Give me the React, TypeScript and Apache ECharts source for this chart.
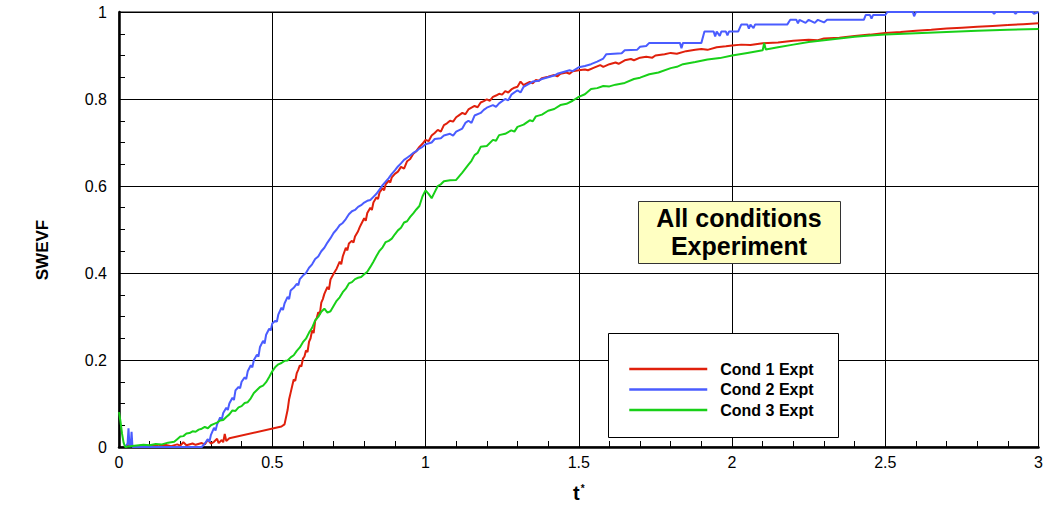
import React, { useEffect, useRef } from "react";
import * as echarts from "echarts";

// Swept-volume fraction vs. dimensionless time, three experimental conditions
const xTicks = [0, 0.5, 1, 1.5, 2, 2.5, 3];
const yTicks = [0, 0.2, 0.4, 0.6, 0.8, 1];

const seriesNames = ["Cond 1 Expt", "Cond 2 Expt", "Cond 3 Expt"];
const seriesColors = ["#e0200c", "#4a5cff", "#18d018"];

const cond1: [number, number][] = [
  [0.02, 0.0], [0.03, 0.004], [0.05, 0.001], [0.07, 0.003], [0.09, 0.0], [0.11, 0.004], [0.13, 0.002],
  [0.15, 0.005], [0.17, 0.002], [0.19, 0.006], [0.2, 0.003], [0.21, 0.011], [0.22, 0.004], [0.24, 0.008],
  [0.25, 0.005], [0.27, 0.009], [0.28, 0.006], [0.29, 0.017], [0.3, 0.008], [0.31, 0.012], [0.32, 0.019],
  [0.325, 0.009], [0.335, 0.016], [0.34, 0.011], [0.345, 0.03], [0.35, 0.014], [0.36, 0.02],
  [0.53, 0.047], [0.54, 0.052], [0.55, 0.085], [0.555, 0.11], [0.56, 0.125], [0.565, 0.14], [0.57, 0.155],
  [0.575, 0.152], [0.58, 0.17], [0.585, 0.178], [0.59, 0.188], [0.595, 0.185], [0.6, 0.203], [0.605, 0.208],
  [0.61, 0.222], [0.615, 0.218], [0.62, 0.242], [0.625, 0.25], [0.63, 0.268], [0.635, 0.262], [0.64, 0.29],
  [0.645, 0.296], [0.65, 0.31], [0.655, 0.305], [0.66, 0.332], [0.665, 0.34], [0.67, 0.352], [0.68, 0.368],
  [0.685, 0.362], [0.69, 0.385], [0.7, 0.398], [0.705, 0.404], [0.71, 0.41], [0.72, 0.426], [0.725, 0.42],
  [0.73, 0.438], [0.74, 0.458], [0.745, 0.452], [0.75, 0.468], [0.76, 0.474], [0.765, 0.47], [0.77, 0.484],
  [0.78, 0.496], [0.785, 0.505], [0.79, 0.512], [0.8, 0.526], [0.805, 0.52], [0.81, 0.538], [0.82, 0.55],
  [0.825, 0.545], [0.83, 0.562], [0.84, 0.574], [0.845, 0.57], [0.85, 0.585], [0.86, 0.595], [0.865, 0.59],
  [0.87, 0.604], [0.88, 0.612], [0.885, 0.608], [0.89, 0.62], [0.9, 0.628], [0.91, 0.633], [0.92, 0.644],
  [0.93, 0.64], [0.94, 0.657], [0.95, 0.662], [0.96, 0.674], [0.97, 0.68], [0.98, 0.69], [0.99, 0.697],
  [1.0, 0.706], [1.01, 0.703], [1.02, 0.716], [1.03, 0.722], [1.04, 0.729], [1.05, 0.725], [1.06, 0.74],
  [1.07, 0.744], [1.08, 0.75], [1.09, 0.748], [1.1, 0.758], [1.11, 0.763], [1.12, 0.768], [1.13, 0.765],
  [1.14, 0.776], [1.15, 0.78], [1.16, 0.784], [1.17, 0.781], [1.18, 0.792], [1.19, 0.795], [1.2, 0.799],
  [1.21, 0.796], [1.22, 0.805], [1.23, 0.808], [1.24, 0.812], [1.25, 0.81], [1.26, 0.818], [1.27, 0.815],
  [1.28, 0.822], [1.29, 0.826], [1.3, 0.828], [1.31, 0.84], [1.32, 0.832], [1.33, 0.836], [1.34, 0.839],
  [1.35, 0.836], [1.36, 0.844], [1.37, 0.842], [1.38, 0.848], [1.4, 0.851], [1.42, 0.855], [1.43, 0.852],
  [1.44, 0.858], [1.46, 0.861], [1.47, 0.858], [1.48, 0.864], [1.5, 0.866], [1.52, 0.868], [1.53, 0.866],
  [1.55, 0.872], [1.57, 0.878], [1.58, 0.874], [1.6, 0.88], [1.62, 0.884], [1.63, 0.881], [1.65, 0.889],
  [1.67, 0.892], [1.68, 0.889], [1.7, 0.895], [1.72, 0.897], [1.74, 0.895], [1.75, 0.9], [1.78, 0.903],
  [1.8, 0.906], [1.82, 0.904], [1.85, 0.91], [1.88, 0.913], [1.9, 0.915], [1.92, 0.913], [1.95, 0.919],
  [1.98, 0.921], [2.0, 0.923], [2.03, 0.925], [2.06, 0.924], [2.1, 0.928], [2.15, 0.93], [2.2, 0.934],
  [2.25, 0.936], [2.28, 0.935], [2.3, 0.939], [2.35, 0.941], [2.4, 0.945], [2.45, 0.948], [2.5, 0.952],
  [2.55, 0.954], [2.6, 0.957], [2.65, 0.959], [2.7, 0.962], [2.75, 0.964], [2.8, 0.966], [2.85, 0.968],
  [2.9, 0.97], [2.95, 0.972], [3.0, 0.974],
];

const cond2: [number, number][] = [
  [0.02, 0.0], [0.028, 0.008], [0.031, 0.043], [0.034, 0.004], [0.038, 0.0], [0.041, 0.035], [0.044, 0.0],
  [0.1, 0.0], [0.2, 0.0], [0.27, 0.0], [0.28, 0.008], [0.29, 0.018], [0.295, 0.012], [0.3, 0.028],
  [0.31, 0.044], [0.315, 0.038], [0.32, 0.052], [0.33, 0.068], [0.335, 0.062], [0.34, 0.078], [0.35, 0.09],
  [0.355, 0.085], [0.36, 0.1], [0.37, 0.113], [0.375, 0.108], [0.38, 0.13], [0.39, 0.138], [0.395, 0.135],
  [0.4, 0.15], [0.41, 0.16], [0.415, 0.156], [0.42, 0.174], [0.43, 0.188], [0.435, 0.183], [0.44, 0.2],
  [0.45, 0.212], [0.455, 0.208], [0.46, 0.23], [0.47, 0.244], [0.475, 0.238], [0.48, 0.258], [0.49, 0.272],
  [0.495, 0.268], [0.5, 0.284], [0.51, 0.29], [0.515, 0.288], [0.52, 0.305], [0.53, 0.32], [0.535, 0.315],
  [0.54, 0.33], [0.55, 0.345], [0.555, 0.34], [0.56, 0.36], [0.57, 0.366], [0.58, 0.375], [0.585, 0.372],
  [0.59, 0.386], [0.6, 0.394], [0.61, 0.4], [0.62, 0.412], [0.63, 0.42], [0.64, 0.432], [0.65, 0.438],
  [0.66, 0.45], [0.67, 0.458], [0.68, 0.47], [0.69, 0.48], [0.7, 0.492], [0.71, 0.5], [0.72, 0.51],
  [0.73, 0.515], [0.74, 0.524], [0.75, 0.535], [0.76, 0.542], [0.77, 0.545], [0.78, 0.552], [0.79, 0.556],
  [0.8, 0.562], [0.81, 0.566], [0.82, 0.568], [0.83, 0.575], [0.84, 0.582], [0.85, 0.592], [0.86, 0.602],
  [0.87, 0.61], [0.88, 0.618], [0.89, 0.628], [0.9, 0.636], [0.91, 0.645], [0.92, 0.652], [0.93, 0.66],
  [0.94, 0.665], [0.95, 0.67], [0.96, 0.676], [0.97, 0.68], [0.98, 0.686], [0.99, 0.69], [1.0, 0.696],
  [1.02, 0.7], [1.03, 0.708], [1.05, 0.71], [1.06, 0.716], [1.08, 0.72], [1.09, 0.716], [1.1, 0.725],
  [1.12, 0.732], [1.13, 0.745], [1.14, 0.75], [1.15, 0.745], [1.16, 0.762], [1.18, 0.768], [1.19, 0.775],
  [1.2, 0.78], [1.22, 0.786], [1.23, 0.782], [1.24, 0.79], [1.26, 0.8], [1.27, 0.797], [1.28, 0.81],
  [1.3, 0.82], [1.31, 0.815], [1.32, 0.828], [1.34, 0.836], [1.35, 0.84], [1.37, 0.842], [1.38, 0.846],
  [1.4, 0.85], [1.42, 0.854], [1.43, 0.858], [1.45, 0.862], [1.47, 0.866], [1.48, 0.864], [1.5, 0.873],
  [1.52, 0.876], [1.54, 0.88], [1.56, 0.886], [1.58, 0.893], [1.59, 0.903], [1.64, 0.905], [1.65, 0.912],
  [1.69, 0.913], [1.7, 0.92], [1.72, 0.922], [1.73, 0.929], [1.83, 0.929], [1.835, 0.917], [1.84, 0.929],
  [1.9, 0.929], [1.91, 0.955], [1.94, 0.955], [1.945, 0.944], [1.95, 0.955], [1.96, 0.945], [1.965, 0.955],
  [1.98, 0.955], [1.985, 0.946], [1.99, 0.955], [2.02, 0.955], [2.03, 0.971], [2.05, 0.971], [2.055, 0.962],
  [2.06, 0.971], [2.07, 0.963], [2.075, 0.971], [2.18, 0.971], [2.19, 0.982], [2.21, 0.982], [2.215, 0.974],
  [2.22, 0.982], [2.24, 0.975], [2.25, 0.982], [2.27, 0.975], [2.28, 0.982], [2.3, 0.976], [2.31, 0.982],
  [2.43, 0.982], [2.436, 0.993], [2.45, 0.993], [2.455, 0.985], [2.46, 0.993], [2.5, 0.993], [2.507, 1.0],
  [2.59, 1.0], [2.594, 0.99], [2.6, 1.0], [2.85, 1.0], [2.855, 0.996], [2.86, 1.0], [2.92, 1.0],
  [2.925, 0.996], [2.93, 1.0], [2.98, 1.0], [2.985, 0.996], [3.0, 1.0],
];

const cond3: [number, number][] = [
  [0.0, 0.08], [0.005, 0.058], [0.01, 0.03], [0.015, 0.01], [0.02, 0.0], [0.05, 0.003], [0.08, 0.005],
  [0.1, 0.004], [0.12, 0.007], [0.14, 0.006], [0.16, 0.01], [0.18, 0.012], [0.19, 0.018], [0.2, 0.024],
  [0.21, 0.025], [0.22, 0.031], [0.23, 0.032], [0.24, 0.036], [0.25, 0.035], [0.26, 0.04], [0.27, 0.042],
  [0.28, 0.046], [0.29, 0.043], [0.3, 0.05], [0.31, 0.053], [0.32, 0.056], [0.33, 0.061], [0.34, 0.062],
  [0.35, 0.069], [0.36, 0.075], [0.37, 0.084], [0.38, 0.083], [0.39, 0.091], [0.4, 0.094], [0.41, 0.101],
  [0.42, 0.103], [0.43, 0.112], [0.44, 0.124], [0.45, 0.131], [0.46, 0.138], [0.47, 0.141], [0.48, 0.149],
  [0.49, 0.161], [0.5, 0.174], [0.51, 0.184], [0.52, 0.19], [0.53, 0.193], [0.54, 0.198], [0.55, 0.199],
  [0.56, 0.206], [0.57, 0.211], [0.58, 0.221], [0.59, 0.229], [0.6, 0.241], [0.61, 0.249], [0.62, 0.263],
  [0.63, 0.274], [0.64, 0.291], [0.65, 0.299], [0.66, 0.311], [0.67, 0.318], [0.68, 0.309], [0.69, 0.312],
  [0.7, 0.324], [0.71, 0.336], [0.72, 0.344], [0.73, 0.356], [0.74, 0.364], [0.75, 0.376], [0.76, 0.379],
  [0.77, 0.386], [0.78, 0.389], [0.79, 0.391], [0.8, 0.397], [0.81, 0.403], [0.82, 0.414], [0.83, 0.426],
  [0.84, 0.439], [0.85, 0.451], [0.86, 0.459], [0.87, 0.471], [0.88, 0.474], [0.89, 0.479], [0.9, 0.489],
  [0.91, 0.498], [0.92, 0.504], [0.93, 0.516], [0.94, 0.519], [0.95, 0.529], [0.96, 0.537], [0.97, 0.546],
  [0.98, 0.554], [0.99, 0.576], [1.0, 0.59], [1.01, 0.582], [1.02, 0.572], [1.03, 0.586], [1.04, 0.6],
  [1.05, 0.604], [1.06, 0.611], [1.08, 0.613], [1.1, 0.614], [1.12, 0.631], [1.14, 0.649], [1.15, 0.658],
  [1.16, 0.671], [1.17, 0.676], [1.18, 0.69], [1.2, 0.692], [1.22, 0.706], [1.23, 0.704], [1.24, 0.717],
  [1.26, 0.72], [1.28, 0.728], [1.29, 0.725], [1.3, 0.736], [1.32, 0.741], [1.34, 0.751], [1.35, 0.749],
  [1.36, 0.76], [1.38, 0.764], [1.4, 0.773], [1.42, 0.777], [1.44, 0.786], [1.46, 0.789], [1.48, 0.796],
  [1.5, 0.805], [1.52, 0.811], [1.54, 0.823], [1.56, 0.825], [1.58, 0.83], [1.6, 0.829], [1.62, 0.833],
  [1.65, 0.837], [1.68, 0.846], [1.7, 0.849], [1.73, 0.857], [1.76, 0.861], [1.8, 0.871], [1.82, 0.874],
  [1.84, 0.88], [1.88, 0.885], [1.92, 0.891], [1.96, 0.894], [2.0, 0.9], [2.05, 0.906], [2.1, 0.912],
  [2.105, 0.929], [2.11, 0.914], [2.15, 0.919], [2.2, 0.925], [2.25, 0.931], [2.3, 0.935], [2.35, 0.939],
  [2.4, 0.943], [2.45, 0.946], [2.5, 0.948], [2.6, 0.951], [2.7, 0.954], [2.8, 0.957], [2.9, 0.959],
  [3.0, 0.961],
];

const seriesData = [cond1, cond2, cond3];

const FONT = "'Liberation Sans', Arial, Helvetica, sans-serif";

export default function App() {
  const ref = useRef<HTMLDivElement>(null);

  useEffect(() => {
    document.body.style.margin = "0";
    const chart = echarts.init(ref.current!, null, { renderer: "svg" });

    const option: any = {
      animation: false,
      backgroundColor: "#ffffff",
      textStyle: { fontFamily: FONT },
      grid: {
        left: 119,
        right: 6,
        top: 12,
        bottom: 54,
        show: true,
        borderColor: "#000",
        borderWidth: 1,
        backgroundColor: "transparent",
      },
      xAxis: {
        type: "value",
        min: xTicks[0],
        max: xTicks[xTicks.length - 1],
        interval: 0.5,
        name: "t{sup|*}",
        nameLocation: "middle",
        nameGap: 36,
        nameTextStyle: {
          fontFamily: FONT,
          fontWeight: "bold",
          fontSize: 20,
          color: "#000",
          rich: {
            sup: { fontSize: 10, fontWeight: "bold", verticalAlign: "top", padding: [0, 0, 10, 1] },
          },
        },
        axisLine: { show: true, lineStyle: { color: "#000", width: 2.5 } },
        axisTick: { show: true, inside: true, length: 6, lineStyle: { color: "#000", width: 1 } },
        minorTick: { show: true, splitNumber: 5, length: 6, lineStyle: { color: "#000", width: 1 } },
        splitLine: { show: true, lineStyle: { color: "#000", width: 1 } },
        axisLabel: { color: "#000", fontSize: 16, fontFamily: FONT, margin: 7 },
      },
      yAxis: {
        type: "value",
        min: yTicks[0],
        max: yTicks[yTicks.length - 1],
        interval: 0.2,
        axisLine: { show: true, lineStyle: { color: "#000", width: 2.5 } },
        axisTick: { show: true, inside: true, length: 6, lineStyle: { color: "#000", width: 1 } },
        minorTick: { show: true, splitNumber: 4, length: 6, lineStyle: { color: "#000", width: 1 } },
        splitLine: { show: true, lineStyle: { color: "#000", width: 1 } },
        axisLabel: { color: "#000", fontSize: 16, fontFamily: FONT, margin: 12 },
      },
      legend: {
        show: true,
        orient: "vertical",
        left: 628,
        top: 361,
        z: 20,
        padding: 0,
        itemWidth: 78,
        itemHeight: 14,
        itemGap: 4.5,
        data: seriesNames,
        itemStyle: { opacity: 0 },
        lineStyle: { width: 2.5 },
        textStyle: {
          fontFamily: FONT,
          fontWeight: "bold",
          fontSize: 16,
          color: "#000",
          padding: [0, 0, 0, 8],
        },
      },
      graphic: [
        {
          type: "text",
          x: 42,
          y: 250,
          rotation: Math.PI / 2,
          style: {
            text: "SWEVF",
            fontFamily: FONT,
            fontWeight: "bold",
            fontSize: 17,
            fill: "#000",
            align: "center",
            verticalAlign: "middle",
          },
        },
        {
          type: "rect",
          z: 10,
          shape: { x: 608.5, y: 333.5, width: 230, height: 104 },
          style: { fill: "#ffffff", stroke: "#000", lineWidth: 1 },
        },
        {
          type: "rect",
          z: 10,
          shape: { x: 638.5, y: 201.5, width: 202, height: 62 },
          style: { fill: "#ffffc2", stroke: "#333", lineWidth: 1 },
        },
        {
          type: "text",
          z: 11,
          x: 739,
          y: 218,
          style: {
            text: "All conditions",
            fontFamily: FONT,
            fontWeight: "bold",
            fontSize: 25,
            fill: "#000",
            align: "center",
            verticalAlign: "middle",
          },
        },
        {
          type: "text",
          z: 11,
          x: 739,
          y: 246,
          style: {
            text: "Experiment",
            fontFamily: FONT,
            fontWeight: "bold",
            fontSize: 25,
            fill: "#000",
            align: "center",
            verticalAlign: "middle",
          },
        },
      ],
      series: seriesNames.map((name, i) => ({
        name,
        type: "line",
        data: seriesData[i],
        symbol: "none",
        showSymbol: false,
        color: seriesColors[i],
        lineStyle: { color: seriesColors[i], width: 2 },
        z: 3,
      })),
    };

    chart.setOption(option);
    return () => chart.dispose();
  }, []);

  return <div ref={ref} style={{ width: 1046, height: 508 }} />;
}
